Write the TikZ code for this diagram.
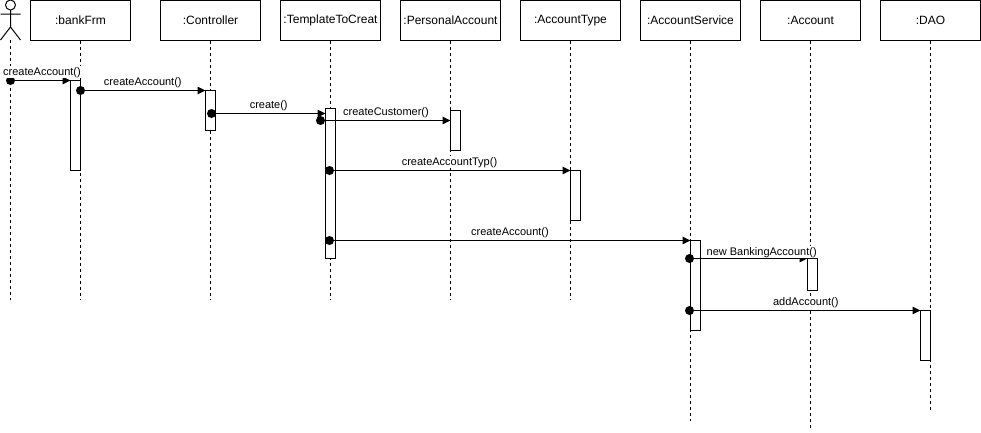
\documentclass[tikz,border=0pt]{standalone}
\usepackage{fontspec}
\setmainfont{Liberation Sans}
\usetikzlibrary{arrows.meta}
\tikzset{
  x=0.75pt,y=-0.75pt,
  every node/.style={inner sep=0pt,outer sep=0pt},
  headbox/.style={draw=black,line width=0.75pt,fill=white,minimum width=75pt,minimum height=30pt,font=\fontsize{9}{11}\selectfont},
  lifeline/.style={draw=black,line width=0.75pt,dash pattern=on 2.25pt off 2.25pt},
  barbox/.style={draw=black,line width=0.75pt,fill=white,minimum width=7.5pt,anchor=north west},
  blob/.style={circle,fill=black,minimum size=6.75pt},
  msg/.style={draw=black,line width=0.75pt,-{Triangle[length=6pt,width=5.6pt]},shorten >=0pt},
  msglabel/.style={fill=white,anchor=base,font=\fontsize{8.25}{10}\selectfont,text height=6.6pt,text depth=2pt},
  figure/.style={draw=black,line width=0.75pt}
}
\begin{document}
\begin{tikzpicture}
\useasboundingbox (0,0) rectangle (981,432);
% actor
\draw[figure,fill=white] (10.5,5) circle[radius=5];
\draw[figure] (10.5,10) -- (10.5,27) (0.5,14) -- (20.5,14) (0.5,40) -- (10.5,27) -- (20.5,40);
\coordinate (actorfoot) at (10.5,40);
% heads
\node[headbox] (bank) at (80.5,20.5) {:bankFrm};
\node[headbox] (ctrl) at (210.5,20.5) {:Controller};
\node[headbox] (tmpl) at (330.5,20.5) {:TemplateToCreat};
\node[headbox] (pers) at (450.5,20.5) {:PersonalAccount};
\node[headbox] (type) at (570.5,20.5) {:AccountType};
\node[headbox] (serv) at (690.5,20.5) {:AccountService};
\node[headbox] (acct) at (810.5,20.5) {:Account};
\node[headbox] (dao) at (930.5,20.5) {:DAO};
% lifeline ends
\coordinate (e0) at (10.5,300);
\coordinate (e1) at (80.5,300);
\coordinate (e2) at (210.5,300);
\coordinate (e3) at (330.5,300);
\coordinate (e4) at (450.5,300);
\coordinate (e5) at (570.5,300);
\coordinate (e6) at (690.5,421);
\coordinate (e7) at (810.5,428);
\coordinate (e8) at (930.5,410);
\draw[lifeline] (actorfoot) -- (e0);
\draw[lifeline] (bank.south) -- (e1);
\draw[lifeline] (ctrl.south) -- (e2);
\draw[lifeline] (tmpl.south) -- (e3);
\draw[lifeline] (pers.south) -- (e4);
\draw[lifeline] (type.south) -- (e5);
\draw[lifeline] (serv.south) -- (e6);
\draw[lifeline] (acct.south) -- (e7);
\draw[lifeline] (dao.south) -- (e8);
% activation bars
\node[barbox,minimum height=67.5pt] (b1) at (70.5,80.5) {};
\node[barbox,minimum height=30pt] (b2) at (205.5,90.5) {};
\node[barbox,minimum height=112.5pt] (b3) at (325.5,108.5) {};
\node[barbox,minimum height=30pt] (b4) at (450.5,110.5) {};
\node[barbox,minimum height=37.5pt] (b5) at (570.5,170.5) {};
\node[barbox,minimum height=67.5pt] (b6) at (690.5,240.5) {};
\node[barbox,minimum height=24pt] (b7) at (807.5,258.5) {};
\node[barbox,minimum height=37.5pt] (b8) at (920.5,310.5) {};
% message start points
\node[blob] (d1) at (10.5,80.5) {};
\node[blob] (d2) at (80.5,90.5) {};
\node[blob] (d3) at (211.5,113.5) {};
\node[blob] (d4) at (320.5,120.5) {};
\node[blob] (d5) at (329.5,170.5) {};
\node[blob] (d6) at (329.5,240.5) {};
\node[blob] (d7) at (689.5,258.5) {};
\node[blob] (d8) at (689.5,310.5) {};
% messages
\draw[msg] (d1.center) -- (d1.center -| b1.west);
\draw[msg] (d2.center) -- (d2.center -| b2.west);
\draw[msg] (d3.center) -- (d3.center -| b3.west);
\draw[msg] (d4.center) -- (d4.center -| b4.west);
\draw[msg] (d5.center) -- (d5.center -| b5.west);
\draw[msg] (d6.center) -- (d6.center -| b6.west);
\draw[msg] (d7.center) -- (d7.center -| b7.west);
\draw[msg] (d8.center) -- (d8.center -| b8.west);
% labels
\node[msglabel] (l1) at (42,75) {createAccount()};
\node[msglabel] (l2) at (142.8,85) {createAccount()};
\node[msglabel] (l3) at (268.7,108) {create()};
\node[msglabel] (l4) at (386,115) {createCustomer()};
\node[msglabel] (l5) at (449.5,165) {createAccountTyp()};
\node[msglabel] (l6) at (510,235) {createAccount()};
\node[msglabel] (l7) at (761.7,255) {new BankingAccount()};
\node[msglabel] (l8) at (805.8,305) {addAccount()};
\end{tikzpicture}
\end{document}
